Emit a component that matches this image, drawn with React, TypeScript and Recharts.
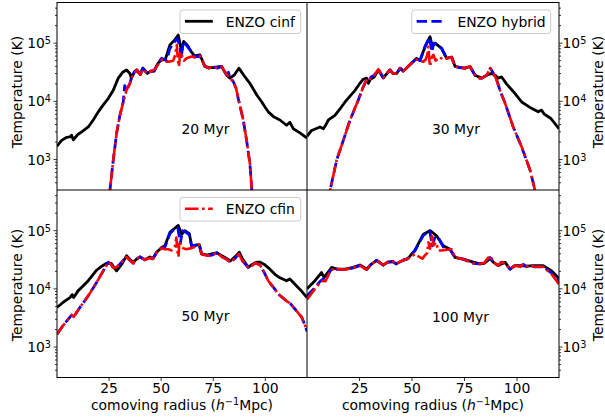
import React from 'react';
import { LineChart, Line, XAxis, YAxis } from 'recharts';

type Pt = [number, number];

// ---------- 20 Myr ----------
const cinf20: Pt[] = [[0,1700],[2.2,2140],[4.5,2400],[6.2,2450],[7,2630],[7.8,2190],[10,2700],[12,3020],[15,3630],[17.4,4790],[19.8,6600],[22.2,8700],[24.6,11200],[27,15500],[29.4,25100],[31.5,31600],[33.4,34700],[35,30200],[35.7,25100],[37,31600],[38.3,34700],[40,28800],[41.2,37200],[43.4,30200],[45,33100],[46.6,33100],[48.6,45700],[50.2,51300],[52,52500],[54.2,93300],[56.6,115000],[58.2,138000],[59.8,72400],[60.8,107000],[62.5,93300],[64.5,70800],[66,60300],[68.6,63100],[71,39800],[73,38000],[75,38000],[77,39000],[79,39800],[81.4,28200],[83,25100],[85,28200],[87.3,37200],[90,27000],[92.6,20400],[95.9,12900],[98.3,9770],[99.9,7940],[101.4,6610],[104.2,5370],[107,4790],[110.2,3890],[111.8,4370],[113.4,3390],[116.6,2880],[120,2340]];
const hybrid20: Pt[] = [[24.5,150],[25.4,295],[27,980],[28.6,2820],[30.2,5750],[31.8,9770],[32.5,18600],[33.2,15000],[35,20400],[35.7,25100],[37,31600],[38.3,34700],[40,28800],[41.2,37200],[43.4,30200],[45,33100],[46.6,33100],[48.6,45700],[50.2,55000],[52.6,50100],[54.2,81300],[56.6,107000],[57.7,120000],[59,89100],[59.6,55000],[60.6,107000],[62.5,89100],[64.5,70800],[66,57500],[68.6,60300],[71,39800],[73,37200],[75,39800],[77,37200],[79,39800],[81.4,28800],[82.3,31600],[83,25100],[84.6,21900],[86,16600],[87,11200],[89.4,4790],[91,2140],[92.6,851],[93.4,339],[94.2,150]];
const cfin20: Pt[] = [[24.5,150],[25.4,295],[27,980],[28.6,2820],[30.2,5750],[31.8,9770],[33.4,15800],[35,20400],[36,26300],[37.5,30900],[38.3,34700],[40,28800],[41.2,35500],[43.4,30200],[45,33100],[47,35500],[49,45700],[50.5,52500],[52,47900],[53.4,47900],[55.8,50100],[56.8,63100],[57.5,93300],[58,52500],[58.5,39800],[59.2,70800],[59.8,63100],[61,50100],[62.2,55000],[64.6,58900],[66,57500],[68.6,60300],[71,39800],[73,37200],[75,39800],[77,37200],[79,39800],[81.4,28800],[83,25100],[84.6,21900],[86,16600],[87,11200],[89.4,4790],[91,2140],[92.6,851],[93.4,339],[94.2,150]];

// ---------- 30 Myr ----------
const cinf30: Pt[] = [[0,2510],[2.2,3160],[6.2,3630],[7.8,3390],[8.7,3800],[10.2,4790],[13.3,5750],[15.7,7400],[18.1,9770],[20.5,12300],[22.9,15500],[24.8,19500],[26.8,24000],[28.4,25100],[29.2,20400],[30.2,24000],[32,26300],[34,34700],[36.3,25100],[38,30000],[39.5,34700],[41,30000],[42.7,30200],[44.3,37200],[45.9,33100],[49,42700],[52.2,55000],[53.8,50100],[56.2,87100],[58.6,129000],[59.7,87100],[61,100000],[64.1,81300],[66.5,55000],[68.9,57500],[70.5,39800],[73,38000],[75.2,37200],[77.6,39800],[80,28200],[83.2,25100],[85.6,28200],[88,30200],[89.5,28200],[91.1,25100],[92.7,26300],[95,20000],[98.2,14800],[102.2,9770],[106,7940],[110.1,6610],[111.7,7080],[113,6030],[116,5130],[120,3390]];
const hybrid30: Pt[] = [[10,190],[11,295],[14.1,977],[17.3,2140],[20.5,4790],[24.4,10500],[26.8,17800],[28.2,22900],[29.2,21400],[30.5,26300],[32,28200],[34,35500],[36.3,25700],[38,30000],[39.5,34700],[41,30000],[42.7,30200],[44.3,37200],[45.9,33100],[49,42700],[52.2,55000],[53.8,50100],[56.2,87100],[58.3,126000],[59.5,70800],[60.3,100000],[62,95500],[64.1,81300],[66.5,55000],[68.9,57500],[70.5,39800],[73,38000],[75.2,37200],[77.6,39800],[80,28200],[81.5,25100],[83.2,25100],[85.6,28200],[87.3,37200],[88.5,31600],[90.3,23400],[92,15100],[94.3,9330],[98.2,3630],[102.2,1660],[106.2,661],[108.6,295],[109.5,190]];
const cfin30: Pt[] = [[10,190],[11,295],[14.1,977],[17.3,2140],[20.5,4790],[24.4,10500],[26.8,17800],[28.2,22900],[29.2,21400],[30.5,26300],[32,28200],[34,35500],[36.3,25700],[38,30000],[39.5,34700],[41,30000],[42.7,30200],[44.3,37200],[45.9,33100],[49,42700],[52.2,52500],[54,50100],[55.4,47900],[56.5,52500],[57.3,63100],[57.8,87100],[58.3,50100],[58.6,39800],[59.3,56200],[60.2,63100],[61.2,50100],[63.3,57500],[64.5,52500],[66.5,55000],[68.9,57500],[70.5,39800],[73,38000],[75.2,37200],[77.6,39800],[80,28200],[81.5,25100],[83.2,25100],[85.6,28200],[87.3,37200],[88.5,31600],[90.3,23400],[92,15100],[94.3,9330],[98.2,3630],[102.2,1660],[106.2,661],[108.6,295],[109.5,190]];

// ---------- 50 Myr ----------
const cinf50: Pt[] = [[0,4790],[3,5890],[6.2,7080],[7.3,7940],[8,7080],[10.2,9330],[12.5,11200],[15,13800],[17,17000],[19,20900],[21.5,24500],[23.8,27500],[26,27500],[28.6,20400],[31,26300],[33.4,37200],[35,32000],[36.6,28800],[38,32000],[39.8,35500],[42.2,31600],[44.6,35500],[46,33000],[47.8,42700],[50.2,51300],[51.8,55000],[54.2,93300],[57.4,117000],[58.2,123000],[59.8,87100],[61.4,100000],[63.5,89100],[64.6,55000],[68.3,57500],[69.4,39800],[72,38000],[74.3,39800],[76.7,41700],[79.1,37200],[81,34000],[83.2,30200],[85.4,35500],[87.5,42700],[89,33000],[91.8,23400],[93.5,26000],[95.9,28800],[97.5,28800],[99.5,26300],[101.5,23000],[104.6,17800],[107,15500],[110.2,13800],[111.8,14800],[114.2,12000],[117,9500],[120,7080]];
const hybrid50: Pt[] = [[0,1660],[2.5,2240],[5.4,3020],[7,3550],[8,3310],[11,4790],[15,7590],[19,12900],[22.2,20400],[24.6,28800],[26,26300],[27,22900],[29,24000],[31,28800],[33.4,35500],[35,31000],[36.6,27500],[38,32000],[39.8,35500],[42.2,31600],[44.6,33900],[46,33000],[47.8,41700],[50.2,50100],[51.8,52500],[54.2,89100],[57,112000],[58,112000],[59.2,60300],[60.2,100000],[62,93300],[63.5,85100],[64.6,55000],[68.3,57500],[69.4,39800],[72,37000],[74.3,38000],[76.7,41700],[79.1,35500],[81,33000],[83.2,28800],[85.4,33100],[87.2,39800],[89,30200],[92,22900],[93.5,25000],[95.2,28200],[97.4,25700],[99.5,19000],[101.4,13800],[104,10500],[106.3,8130],[110.2,6170],[112,5600],[114.3,4470],[117.5,3240],[119.5,2140],[120,1860]];
const cfin50: Pt[] = [[0,1660],[2.5,2240],[5.4,3020],[7,3550],[8,3310],[11,4790],[15,7590],[19,12900],[22.2,20400],[24.6,28800],[26,26300],[27,22900],[29,24000],[31,28800],[33.4,35500],[35,31000],[36.6,27500],[38,32000],[39.8,35500],[42.2,31600],[44.6,33900],[46,33000],[47.8,41700],[50.2,50100],[51.8,47900],[53.4,47900],[55,45700],[56.5,52500],[57.3,75900],[57.8,44700],[58.3,35500],[58.8,66100],[59.5,52500],[60.5,50100],[62,47900],[64.6,50100],[66,52500],[68.3,57500],[69.4,39800],[72,37000],[74.3,38000],[76.7,41700],[79.1,35500],[81,33000],[83.2,28800],[85.4,33100],[87.2,39800],[89,30200],[92,22900],[93.5,25000],[95.2,28200],[97.4,25700],[99.5,19000],[101.4,13800],[104,10500],[106.3,8130],[110.2,6170],[112,5600],[114.3,4470],[117.5,3240],[119.5,2140],[120,1950]];

// ---------- 100 Myr ----------
const cinf100: Pt[] = [[0,10000],[3.8,13800],[6.9,19100],[8.1,15800],[11.8,23400],[14.2,21900],[18.1,21900],[22,23400],[25.2,25700],[28.4,21900],[30.5,26300],[33.2,30900],[36.3,25700],[38.5,28800],[40.8,29500],[42.5,26900],[45.6,30900],[48,33100],[51.4,45700],[55.4,87100],[58.6,100000],[61.8,81300],[64.9,55000],[68.1,47900],[70.5,34700],[74.4,32400],[79.2,28800],[82.4,26900],[84.5,27500],[87.1,33100],[89,28200],[91.1,25100],[94.3,28800],[96.7,21900],[99,25100],[101.4,25100],[104.6,24500],[108,25100],[112.5,25100],[116.5,20400],[120,15100]];
const hybrid100: Pt[] = [[0,7590],[3.8,10500],[6,13200],[7.8,14800],[8.8,13800],[11,20400],[13.3,22900],[14.2,21900],[18.1,21400],[22,22900],[25.2,25100],[28.4,21400],[30.5,26300],[33.2,30900],[36.3,25700],[38.5,28800],[40.8,29500],[42.5,26900],[45.6,30900],[48,33100],[51.4,45700],[55.4,83200],[58.4,100000],[59.7,55000],[61,79400],[62.5,75900],[64.9,52500],[68.1,47900],[70.5,34700],[74.4,32400],[79.2,27500],[82.4,26900],[84.5,28200],[87.1,34700],[89,28200],[91.1,25100],[92.5,28800],[94.3,27500],[96.7,21900],[99,25100],[101.4,24000],[103,26300],[104.6,24000],[106.2,25700],[108,24000],[112.5,24000],[116.5,18600],[120,13200]];
const cfin100: Pt[] = [[0,6610],[3.8,10000],[6,12600],[7.8,13800],[8.8,13500],[11,20000],[13.3,22900],[14.2,21900],[18.1,21400],[22,22900],[25.2,25100],[28.4,21400],[30.5,26300],[33.2,30900],[36.3,25700],[38.5,28800],[40.8,29500],[42.5,26900],[45.6,30900],[48,33100],[51.4,39800],[53,36300],[55,33100],[56,37200],[57.3,41700],[57.8,63100],[58.6,49000],[59.4,87100],[60.2,56200],[61.5,63100],[62.5,45700],[64.1,45700],[66,46800],[68.9,47900],[70.5,34700],[74.4,32400],[79.2,27500],[82.4,26900],[84.5,28200],[87.1,37200],[89,28200],[91.1,25100],[92.5,28800],[94.3,27500],[96.7,21900],[99,25100],[101.4,24000],[103,26300],[104.6,24000],[106.2,26300],[108,24000],[112.5,24000],[116.5,17800],[120,12000]];

const xTicks = [25, 50, 75, 100];
const xTickLabels = ['25', '50', '75', '100'];
const yMajorTicks = [1000, 10000, 100000];
const yMajorExponents = ['3', '4', '5'];
const yMinorTicks = [400, 500, 600, 700, 800, 900, 2000, 3000, 4000, 5000, 6000, 7000, 8000, 9000,
  20000, 30000, 40000, 50000, 60000, 70000, 80000, 90000, 200000, 300000, 400000];
const panelLabels = ['20 Myr', '30 Myr', '50 Myr', '100 Myr'];
const seriesNames = ['ENZO cinf', 'ENZO hybrid', 'ENZO cfin'];

const FONT = 'DejaVu Sans';
const FS = 13.9;
const allYTicks = [...yMinorTicks, ...yMajorTicks].sort((a, b) => a - b);
const toRows = (pts: Pt[]) => pts.map(([x, T]) => ({ x, T }));

const STYLE = {
  cinf: { stroke: '#000000', strokeWidth: 2.8, dash: undefined as string | undefined },
  hybrid: { stroke: '#0000ff', strokeWidth: 2.8, dash: '10.3 4.4' },
  cfin: { stroke: '#ff0000', strokeWidth: 2.6, dash: '13.5 3.5 2.6 3.5' },
};

function makeYTick(side: 'left' | 'right', edge: number) {
  return (props: any) => {
    const { y, payload } = props;
    const v = payload.value;
    const mi = yMajorTicks.indexOf(v);
    const major = mi >= 0;
    const len = major ? 3.5 : 2;
    const dir = side === 'left' ? -1 : 1;
    return (
      <g>
        <line x1={edge} x2={edge + dir * len} y1={y} y2={y} stroke="#000" strokeWidth={0.8} />
        {major && (
          <text x={side === 'left' ? edge - 6 : edge + 3.5} y={y + 5} textAnchor={side === 'left' ? 'end' : 'start'}
            fontSize={FS} fontFamily={FONT} fill="#000">
            10<tspan dy={-4} fontSize={9.7}>{yMajorExponents[mi]}</tspan>
          </text>
        )}
      </g>
    );
  };
}

function makeXTick(edge: number) {
  return (props: any) => {
    const { x, payload } = props;
    const i = xTicks.indexOf(payload.value);
    return (
      <g>
        <line x1={x} x2={x} y1={edge} y2={edge + 3.5} stroke="#000" strokeWidth={0.8} />
        <text x={x} y={edge + 15.8} textAnchor="middle" fontSize={FS} fontFamily={FONT} fill="#000">
          {xTickLabels[i]}
        </text>
      </g>
    );
  };
}

type PanelProps = {
  left: number; top: number; width: number; height: number;
  side: 'left' | 'right'; bottomRow: boolean;
  cinf: Pt[]; hybrid: Pt[]; cfin: Pt[];
};

function Panel({ left, top, width, height, side, bottomRow, cinf, hybrid, cfin }: PanelProps) {
  const yWidth = side === 'left' ? 57 : 46;
  const yEdge = side === 'left' ? 57 : width - 46;
  const marginTop = bottomRow ? 0 : 2.5;
  const xH = bottomRow ? 41.5 : 0;
  const plotBottom = height - xH;
  return (
    <div style={{ position: 'absolute', left, top, width, height }}>
      <LineChart width={width} height={height} margin={{ top: marginTop, right: 0, bottom: 0, left: 0 }}>
        <XAxis type="number" dataKey="x" domain={[0, 120]} allowDataOverflow ticks={xTicks} interval={0}
          hide={!bottomRow} height={xH} axisLine={false} tickLine={false} tick={makeXTick(plotBottom)} />
        <YAxis type="number" scale="log" domain={[300, 500000]} allowDataOverflow ticks={allYTicks} interval={0}
          orientation={side} width={yWidth} axisLine={false} tickLine={false} tick={makeYTick(side, yEdge)} />
        <Line data={toRows(cinf)} dataKey="T" name={seriesNames[0]} type="linear" dot={false} isAnimationActive={false}
          stroke={STYLE.cinf.stroke} strokeWidth={STYLE.cinf.strokeWidth} strokeLinejoin="round" />
        <Line data={toRows(hybrid)} dataKey="T" name={seriesNames[1]} type="linear" dot={false} isAnimationActive={false}
          stroke={STYLE.hybrid.stroke} strokeWidth={STYLE.hybrid.strokeWidth} strokeDasharray={STYLE.hybrid.dash} strokeLinejoin="round" />
        <Line data={toRows(cfin)} dataKey="T" name={seriesNames[2]} type="linear" dot={false} isAnimationActive={false}
          stroke={STYLE.cfin.stroke} strokeWidth={STYLE.cfin.strokeWidth} strokeDasharray={STYLE.cfin.dash} strokeLinejoin="round" />
      </LineChart>
    </div>
  );
}

function LegendBox({ x, y, w, label, st }: { x: number; y: number; w: number; label: string; st: { stroke: string; strokeWidth: number; dash?: string } }) {
  return (
    <g>
      <rect x={x} y={y} width={w} height={23.5} rx={2.8} fill="#ffffff" fillOpacity={0.8} stroke="#cccccc" strokeWidth={1} />
      <line x1={x + 5} x2={x + 32.8} y1={y + 11.3} y2={y + 11.3} stroke={st.stroke} strokeWidth={st.strokeWidth} strokeDasharray={st.dash} />
      <text x={x + 45.7} y={y + 16.7} fontSize={FS} fontFamily={FONT} fill="#000">{label}</text>
    </g>
  );
}

function XTitle({ cx }: { cx: number }) {
  return (
    <text x={cx} y={410} textAnchor="middle" fontSize={FS} fontFamily={FONT} fill="#000">
      comoving radius (<tspan fontStyle="italic">h</tspan><tspan dy={-5} fontSize={9.7}>−1</tspan><tspan dy={5}>Mpc)</tspan>
    </text>
  );
}

function YTitle({ cx, cy }: { cx: number; cy: number }) {
  return (
    <text x={cx} y={cy} transform={`rotate(-90 ${cx} ${cy})`} textAnchor="middle" dominantBaseline="central"
      fontSize={FS} fontFamily={FONT} fill="#000">Temperature (K)</text>
  );
}

export default function App() {
  return (
    <div style={{ position: 'absolute', left: 0, top: 0, width: 605, height: 419, background: '#fff', overflow: 'hidden' }}>
      <Panel left={0} top={0} width={307} height={190} side="left" bottomRow={false} cinf={cinf20} hybrid={hybrid20} cfin={cfin20} />
      <Panel left={307} top={0} width={298} height={190} side="right" bottomRow={false} cinf={cinf30} hybrid={hybrid30} cfin={cfin30} />
      <Panel left={0} top={190} width={307} height={229} side="left" bottomRow={true} cinf={cinf50} hybrid={hybrid50} cfin={cfin50} />
      <Panel left={307} top={190} width={298} height={229} side="right" bottomRow={true} cinf={cinf100} hybrid={hybrid100} cfin={cfin100} />
      <svg width={605} height={419} style={{ position: 'absolute', left: 0, top: 0, pointerEvents: 'none' }}>
        <rect x={57} y={2.5} width={502} height={375} fill="none" stroke="#000" strokeWidth={1} />
        <line x1={57} x2={559} y1={190} y2={190} stroke="#000" strokeWidth={1} />
        <line x1={307} x2={307} y1={2.5} y2={377.5} stroke="#000" strokeWidth={1} />
        <text x={181.5} y={134} fontSize={FS} fontFamily={FONT} fill="#000">{panelLabels[0]}</text>
        <text x={432} y={134} fontSize={FS} fontFamily={FONT} fill="#000">{panelLabels[1]}</text>
        <text x={181.5} y={321} fontSize={FS} fontFamily={FONT} fill="#000">{panelLabels[2]}</text>
        <text x={432} y={321.5} fontSize={FS} fontFamily={FONT} fill="#000">{panelLabels[3]}</text>
        <LegendBox x={180} y={10} w={120.7} label={seriesNames[0]} st={STYLE.cinf} />
        <LegendBox x={411.7} y={10} w={139} label={seriesNames[1]} st={STYLE.hybrid} />
        <LegendBox x={180} y={197.5} w={120.7} label={seriesNames[2]} st={STYLE.cfin} />
        <XTitle cx={182} />
        <XTitle cx={433} />
        <YTitle cx={16.7} cy={92} />
        <YTitle cx={16.7} cy={285} />
        <YTitle cx={598.3} cy={92} />
        <YTitle cx={598.3} cy={285} />
      </svg>
    </div>
  );
}
